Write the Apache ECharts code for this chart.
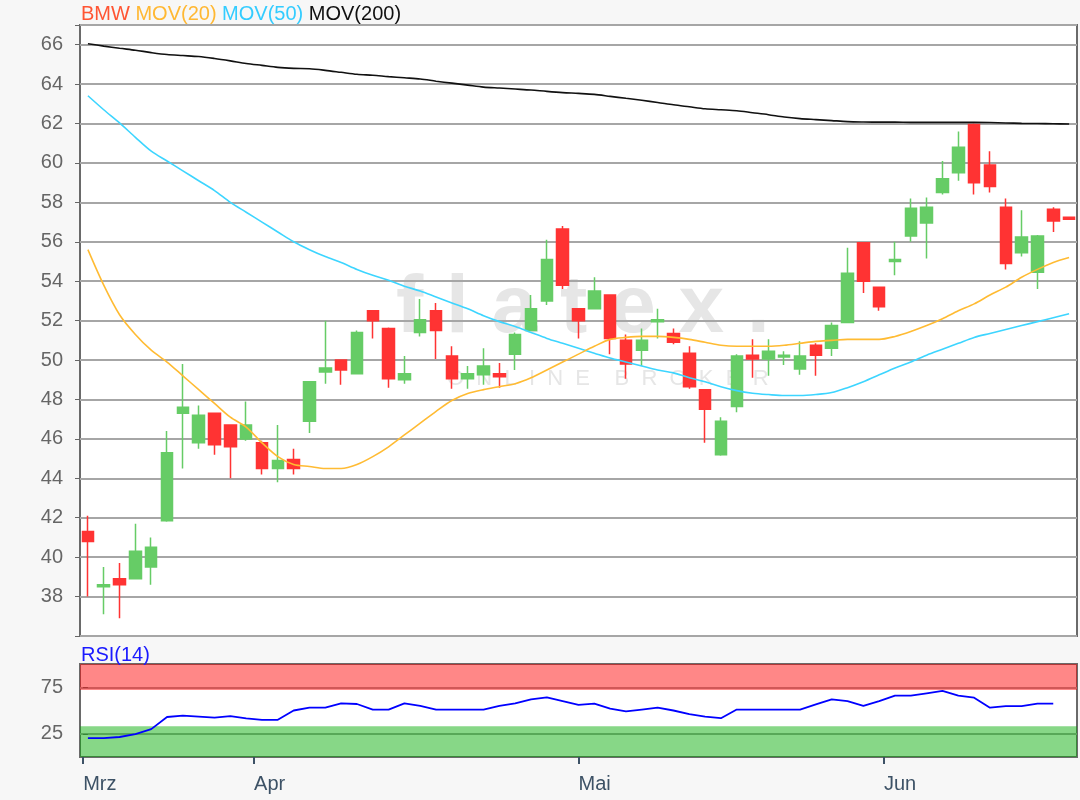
<!DOCTYPE html>
<html><head><meta charset="utf-8">
<script src="https://cdn.jsdelivr.net/npm/echarts@6/dist/echarts.min.js"></script>
<style>html,body{margin:0;padding:0;background:#f7f7f7}#c{width:1080px;height:800px}</style>
</head><body><div id="c"></div>
<script>
const dates = [
 '2020-03-17','2020-03-18','2020-03-19','2020-03-20','2020-03-23','2020-03-24','2020-03-25','2020-03-26','2020-03-27','2020-03-30','2020-03-31',
 '2020-04-01','2020-04-02','2020-04-03','2020-04-06','2020-04-07','2020-04-08','2020-04-09','2020-04-14','2020-04-15','2020-04-16','2020-04-17',
 '2020-04-20','2020-04-21','2020-04-22','2020-04-23','2020-04-24','2020-04-27','2020-04-28','2020-04-29','2020-04-30',
 '2020-05-04','2020-05-05','2020-05-06','2020-05-07','2020-05-08','2020-05-11','2020-05-12','2020-05-13','2020-05-14','2020-05-15',
 '2020-05-18','2020-05-19','2020-05-20','2020-05-21','2020-05-22','2020-05-25','2020-05-26','2020-05-27','2020-05-28','2020-05-29',
 '2020-06-01','2020-06-02','2020-06-03','2020-06-04','2020-06-05','2020-06-08','2020-06-09','2020-06-10','2020-06-11','2020-06-12','2020-06-15','2020-06-16'
];
const open = [41.3,38.5,38.9,38.9,39.5,41.85,47.3,45.8,47.3,46.7,
 46.0,45.8,44.5,44.95,46.9,49.4,50.0,49.3,52.5,51.6,
 49.0,51.4,52.5,50.2,49.05,49.25,49.3,50.3,51.5,53.0,
 56.65,52.6,52.6,53.3,51.0,50.5,51.95,51.35,50.35,48.5,
 45.2,47.65,50.25,50.05,50.15,49.55,50.75,50.6,51.9,55.95,
 53.7,55.0,56.3,56.95,58.5,59.5,61.95,59.9,57.75,55.45,
 54.45,57.65,57.25];
const close = [40.8,38.6,38.6,40.3,40.5,45.3,47.6,47.2,45.7,45.6,
 46.7,44.5,44.9,44.5,48.9,49.6,49.5,51.4,52.0,49.05,
 49.3,52.05,51.5,49.05,49.3,49.7,49.15,51.3,52.6,55.1,
 53.8,52.0,53.5,51.1,49.8,51.0,52.05,50.9,48.65,47.5,
 46.9,50.2,50.05,50.45,50.25,50.2,50.25,51.75,54.4,54.0,
 52.7,55.1,57.7,57.75,59.2,60.8,59.0,58.8,54.9,56.25,
 56.3,57.05,57.15];
const high = [42.1,39.5,39.7,41.7,41.0,46.4,49.8,47.7,47.3,46.7,
 47.9,45.9,46.7,45.5,48.9,52.0,50.0,51.5,52.5,51.65,
 50.2,53.1,52.9,50.7,49.7,50.6,49.85,51.4,53.3,56.1,
 56.8,52.6,54.2,53.3,51.3,51.6,52.6,51.6,50.7,48.5,
 47.1,50.3,51.05,51.05,50.45,50.95,50.85,51.9,55.7,55.95,
 53.7,56.0,58.2,58.25,60.1,61.6,62.0,60.6,58.2,57.6,
 56.35,57.75,57.25];
const low = [38.0,37.1,36.9,38.9,38.6,41.8,44.5,45.5,45.2,44.0,
 45.9,44.2,43.8,44.2,46.3,48.8,48.75,49.3,51.1,48.6,
 48.8,51.2,50.05,48.55,48.55,48.75,48.6,49.5,51.5,52.8,
 53.6,51.1,52.6,50.3,49.05,49.7,51.1,50.8,48.55,45.8,
 45.15,47.35,49.1,49.2,49.75,49.25,49.2,50.2,51.9,53.4,
 52.5,54.3,56.0,55.15,58.4,59.1,58.4,58.5,54.6,55.25,
 53.6,56.5,57.15];
const mov20 = [55.6,53.8,52.3,51.3,50.5,49.9,49.2,48.5,47.8,47.1,
 46.6,45.8,45.1,44.7,44.6,44.5,44.5,44.7,45.1,45.6,
 46.2,46.8,47.4,47.95,48.3,48.5,48.65,48.8,49.1,49.5,
 49.9,50.3,50.7,51.05,51.15,51.2,51.2,51.15,51.05,50.9,
 50.75,50.7,50.7,50.7,50.75,50.85,50.95,51.0,51.05,51.05,
 51.05,51.2,51.45,51.75,52.1,52.5,52.85,53.3,53.7,54.2,
 54.6,54.95,55.2];
const mov50 = [63.41,62.7,62.03,61.3,60.6,60.1,59.6,59.1,58.6,58.0,
 57.5,57.0,56.5,56.0,55.6,55.25,54.95,54.6,54.3,54.05,
 53.75,53.5,53.2,52.9,52.6,52.25,51.95,51.7,51.4,51.1,
 50.85,50.6,50.35,50.1,49.9,49.7,49.5,49.35,49.1,48.9,
 48.65,48.45,48.32,48.25,48.2,48.2,48.25,48.35,48.6,48.9,
 49.25,49.6,49.9,50.25,50.55,50.85,51.15,51.35,51.55,51.75,
 51.95,52.15,52.35];
const mov200 = [66.05,65.93,65.82,65.72,65.6,65.5,65.45,65.4,65.3,65.18,
 65.05,64.95,64.85,64.8,64.78,64.7,64.6,64.5,64.45,64.38,
 64.32,64.26,64.15,64.05,63.95,63.85,63.8,63.75,63.7,63.63,
 63.57,63.53,63.48,63.38,63.28,63.18,63.07,62.95,62.85,62.75,
 62.7,62.65,62.55,62.45,62.33,62.25,62.2,62.15,62.1,62.08,
 62.07,62.07,62.06,62.06,62.06,62.06,62.06,62.05,62.03,62.01,
 62.0,61.99,61.98];
const rsi = [20.3,20.3,21.5,24.7,30,43,44.5,43.5,42.4,44,
 41.5,40,40,50,53,53,57.6,57,51,51,
 57.6,55,51,51,51,51,55,57.6,62,64,
 60,56,57.5,52,49,51,53,50,46,43.5,
 41.7,51,51,51,51,51,56.5,62,60,55,
 60,66,66,68.5,71,66,63.8,53,54.6,54.6,
 57.3,57.3];
const monthTickPos = [-0.3, 10.5, 31, 50.3];
const monthNames = ['Mrz','Apr','Mai','Jun'];
const priceLabelMin = 38, priceLabelMax = 66;
const rsiLabels = [25, 75];

const FONT = 'Arial, "Liberation Sans", sans-serif';
const chart = echarts.init(document.getElementById('c'), null, {renderer:'canvas'});
const candleData = dates.map((d,i)=>[open[i], close[i], low[i], high[i]]);
const rsiData = rsi.map((v,i)=>[i, v]);

chart.setOption({
  backgroundColor:'#f7f7f7',
  animation:false,
  textStyle:{fontFamily:FONT},
  title:[
    {left:81, top:4, padding:0, text:'{a|BMW} {b|MOV(20)} {c|MOV(50)} {d|MOV(200)}',
     textStyle:{fontSize:20, fontWeight:'normal', rich:{
       a:{color:'#ff5533',fontSize:20,fontFamily:FONT},
       b:{color:'#ffb833',fontSize:20,fontFamily:FONT},
       c:{color:'#33ccff',fontSize:20,fontFamily:FONT},
       d:{color:'#111111',fontSize:20,fontFamily:FONT}}}},
    {left:81, top:645, padding:0, text:'RSI(14)', textStyle:{fontSize:20, fontWeight:'normal', color:'#1a1aff', fontFamily:FONT}}
  ],
  graphic:{elements:[
    {type:'text', left:396, top:268, z:-1, silent:true,
     style:{text:'f l a t e x .', font:'bold 82px '+FONT, fill:'#e6e6e6'}},
    {type:'text', left:447, top:368, z:-1, silent:true,
     style:{text:'O  N  L  I  N  E    B  R  O  K  E  R', font:'22px '+FONT, fill:'#e6e6e6'}}
  ]},
  grid:[
    {left:80, right:3, top:25, height:611, show:true, z:-2, backgroundColor:'#ffffff', borderColor:'#6a6a6a', borderWidth:2},
    {left:80, right:3, top:664, height:93, show:true, z:-2, backgroundColor:'#ffffff', borderColor:'#6a6a6a', borderWidth:2}
  ],
  xAxis:[
    {type:'category', gridIndex:0, data:dates, boundaryGap:true,
     axisLine:{show:false}, axisTick:{show:false}, axisLabel:{show:false}, splitLine:{show:false}},
    {type:'value', gridIndex:1, min:-0.5, max:62.5,
     axisLine:{show:false}, splitLine:{show:false},
     axisTick:{show:true, customValues:monthTickPos, length:7, lineStyle:{color:'#3d5266', width:2}},
     axisLabel:{show:true, customValues:monthTickPos, formatter:v=>monthNames[monthTickPos.indexOf(v)],
       align:'left', color:'#3d5266', fontSize:20, margin:17, fontFamily:FONT}}
  ],
  yAxis:[
    {type:'value', gridIndex:0, min:36, max:67, interval:2,
     axisLine:{show:false},
     axisTick:{show:true, length:5, lineStyle:{color:'#666'}},
     axisLabel:{color:'#666', fontSize:20, margin:17, fontFamily:FONT,
       formatter:v=>(v>=priceLabelMin && v<=priceLabelMax) ? String(v) : ''},
     splitLine:{show:true, lineStyle:{color:'#a6a6a6', width:2}}},
    {type:'value', gridIndex:1, min:0, max:100, interval:25,
     axisLine:{show:false},
     axisTick:{show:true, customValues:rsiLabels, length:5, lineStyle:{color:'#666'}},
     axisLabel:{customValues:rsiLabels, color:'#666', fontSize:20, margin:17, fontFamily:FONT},
     splitLine:{show:true, lineStyle:{color:'#a6a6a6', width:2}}}
  ],
  series:[
    {type:'candlestick', name:'BMW', xAxisIndex:0, yAxisIndex:0, data:candleData, barWidth:12,
     itemStyle:{color:'#66cc66', color0:'#ff3333', borderColor:'#66cc66', borderColor0:'#ff3333', borderWidth:1.5}},
    {type:'line', name:'MOV(200)', xAxisIndex:0, yAxisIndex:0, data:mov200, showSymbol:false, smooth:0.3,
     lineStyle:{color:'#111', width:1.6}},
    {type:'line', name:'MOV(50)', xAxisIndex:0, yAxisIndex:0, data:mov50, showSymbol:false, smooth:0.3,
     lineStyle:{color:'#3dd5ff', width:1.6}},
    {type:'line', name:'MOV(20)', xAxisIndex:0, yAxisIndex:0, data:mov20, showSymbol:false, smooth:0.3,
     lineStyle:{color:'#ffbb33', width:1.6}},
    {type:'line', name:'RSI(14)', xAxisIndex:1, yAxisIndex:1, data:rsiData, showSymbol:false,
     lineStyle:{color:'#0000ff', width:1.8},
     markArea:{silent:true, data:[
       [{yAxis:72, itemStyle:{color:'rgba(255,0,0,0.47)'}}, {yAxis:100}],
       [{yAxis:0, itemStyle:{color:'rgba(0,171,0,0.47)'}}, {yAxis:33}]
     ]}}
  ]
});
</script></body></html>
